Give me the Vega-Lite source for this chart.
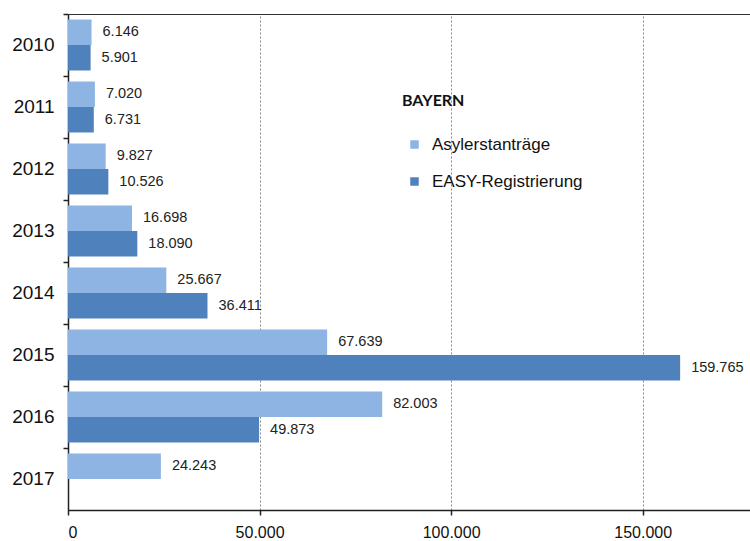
{
  "$schema": "https://vega.github.io/schema/vega-lite/v6.json",
  "width": 682,
  "height": 496,
  "autosize": {"type": "none"},
  "padding": {"left": 68, "top": 14, "right": 0, "bottom": 31},
  "config": {
    "locale": {"number": {"decimal": ",", "thousands": ".", "grouping": [3], "currency": ["", "€"]}},
    "view": {"stroke": "#333", "strokeWidth": 1},
    "font": "Liberation Sans"
  },
  "data": {
    "values": [
      {"year": "2010", "series": "Asylerstanträge", "value": 6146},
      {"year": "2010", "series": "EASY-Registrierung", "value": 5901},
      {"year": "2011", "series": "Asylerstanträge", "value": 7020},
      {"year": "2011", "series": "EASY-Registrierung", "value": 6731},
      {"year": "2012", "series": "Asylerstanträge", "value": 9827},
      {"year": "2012", "series": "EASY-Registrierung", "value": 10526},
      {"year": "2013", "series": "Asylerstanträge", "value": 16698},
      {"year": "2013", "series": "EASY-Registrierung", "value": 18090},
      {"year": "2014", "series": "Asylerstanträge", "value": 25667},
      {"year": "2014", "series": "EASY-Registrierung", "value": 36411},
      {"year": "2015", "series": "Asylerstanträge", "value": 67639},
      {"year": "2015", "series": "EASY-Registrierung", "value": 159765},
      {"year": "2016", "series": "Asylerstanträge", "value": 82003},
      {"year": "2016", "series": "EASY-Registrierung", "value": 49873},
      {"year": "2017", "series": "Asylerstanträge", "value": 24243}
    ]
  },
  "encoding": {
    "y": {
      "field": "year",
      "type": "nominal",
      "scale": {"paddingInner": 0, "paddingOuter": 0},
      "axis": {
        "title": null,
        "bandPosition": 0,
        "labelFontSize": 19,
        "labelColor": "#111",
        "labelPadding": 9,
        "domainColor": "#222",
        "tickColor": "#222",
        "tickSize": 5,
        "tickWidth": 1.5,
        "domainWidth": 1.5
      }
    },
    "yOffset": {
      "field": "series",
      "type": "nominal",
      "scale": {"domain": ["Asylerstanträge", "EASY-Registrierung"], "paddingInner": 0, "paddingOuter": 0.216}
    },
    "x": {
      "field": "value",
      "type": "quantitative",
      "scale": {"domain": [0, 178000], "nice": false},
      "axis": {
        "title": null,
        "values": [0, 50000, 100000, 150000],
        "format": ",d",
        "labelFontSize": 16,
        "labelColor": "#111",
        "labelPadding": 9,
        "tickSize": 5,
        "tickColor": "#222",
        "tickWidth": 1.5,
        "domainColor": "#222",
        "domainWidth": 1.5,
        "grid": true,
        "gridDash": [2, 2],
        "gridColor": "#888",
        "gridWidth": 1
      }
    }
  },
  "layer": [
    {
      "mark": {"type": "bar"},
      "encoding": {
        "color": {
          "field": "series",
          "type": "nominal",
          "scale": {"domain": ["Asylerstanträge", "EASY-Registrierung"], "range": ["#8DB4E2", "#4F81BD"]},
          "legend": {
            "title": "BAYERN",
            "orient": "none",
            "legendX": 334,
            "legendY": 79,
            "titleFont": "Lato",
            "titleFontSize": 16,
            "titleFontWeight": "bold",
            "titleColor": "#111",
            "titlePadding": 27,
            "symbolType": "square",
            "symbolSize": 72,
            "symbolOffset": 4,
            "symbolStrokeWidth": 0,
            "labelFontSize": 17,
            "labelColor": "#111",
            "labelOffset": 9,
            "rowPadding": 19
          }
        }
      }
    },
    {
      "mark": {"type": "text", "align": "left", "baseline": "middle", "dx": 11, "fontSize": 14.5, "color": "#222"},
      "encoding": {"text": {"field": "value", "type": "quantitative", "format": ",d"}}
    }
  ]
}
